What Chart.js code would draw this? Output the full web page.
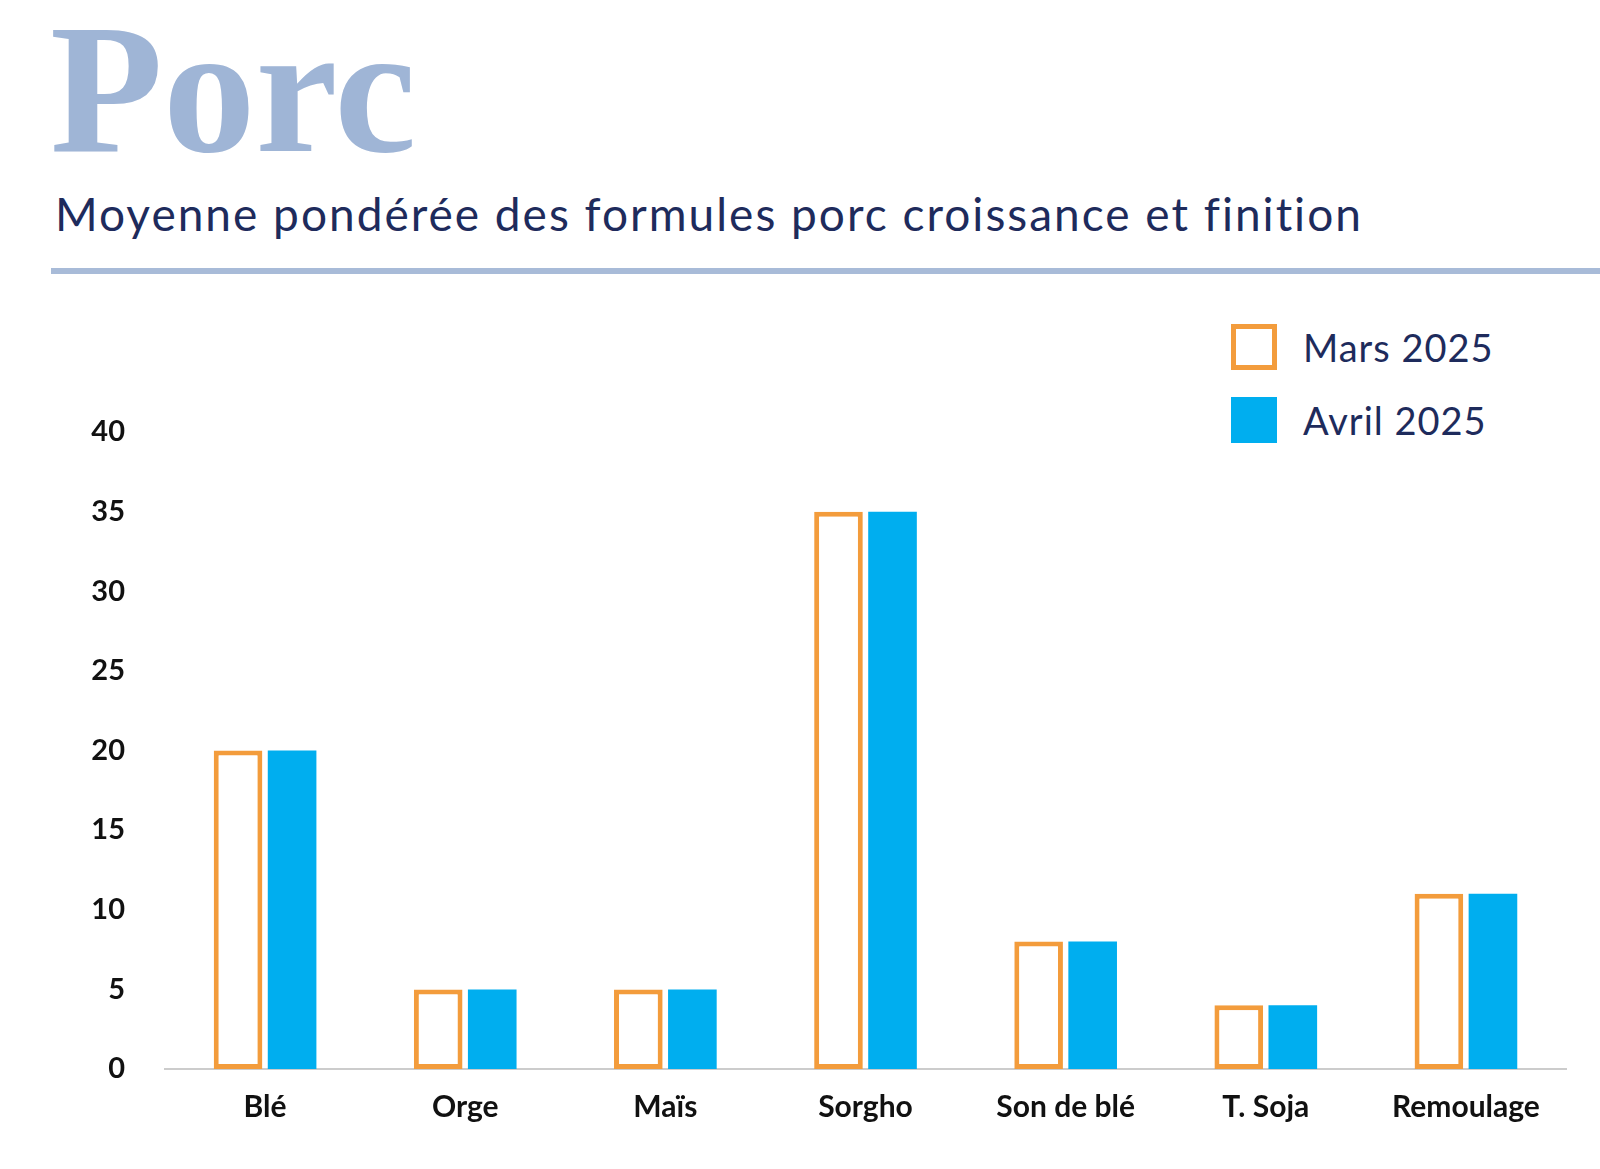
<!DOCTYPE html>
<html>
<head>
<meta charset="utf-8">
<script src="https://cdn.jsdelivr.net/npm/chart.js@4"></script>
<style>
  body { margin:0; width:1600px; height:1169px; background:#fff; position:relative; overflow:hidden; font-family:Lato, "Noto Sans", sans-serif; }
  #titre { position:absolute; left:50px; top:-18px; font-family:"Liberation Serif", "DejaVu Serif", serif; font-weight:bold; font-size:185px; color:#9fb5d6; }
  #sous { position:absolute; left:55px; top:186px; font-size:46px; letter-spacing:2px; color:#1e2b5c; }
  #trait { position:absolute; left:51px; top:268px; width:1560px; height:6px; background:#a8bbd8; }
  #leg { position:absolute; left:1231px; top:324px; font-size:38px; letter-spacing:1px; color:#1e2b5c; }
  .item { display:flex; align-items:center; height:46px; margin-bottom:27px; }
  .box { width:46px; height:46px; box-sizing:border-box; margin-right:26px; }
  #wrap { position:absolute; left:0; top:290px; width:1600px; height:842px; }
</style>
</head>
<body>
<div id="titre">Porc</div>
<div id="sous">Moyenne pondérée des formules porc croissance et finition</div>
<div id="trait"></div>
<div id="leg">
  <div class="item"><span class="box" style="border:5px solid #f39c3c"></span>Mars 2025</div>
  <div class="item"><span class="box" style="background:#00aeef"></span>Avril 2025</div>
</div>
<div id="wrap"><canvas id="c"></canvas></div>
<script>
const categories = ['Blé', 'Orge', 'Maïs', 'Sorgho', 'Son de blé', 'T. Soja', 'Remoulage'];
const mars2025 = [20, 5, 5, 35, 8, 4, 11];
const avril2025 = [20, 5, 5, 35, 8, 4, 11];
const yTicks = [0, 5, 10, 15, 20, 25, 30, 35, 40];

new Chart(document.getElementById('c'), {
  type: 'bar',
  data: {
    labels: categories,
    datasets: [
      { label: 'Mars 2025', data: mars2025, backgroundColor: '#ffffff', borderColor: '#f39c3c', borderWidth: 5, borderSkipped: false },
      { label: 'Avril 2025', data: avril2025, backgroundColor: '#00aeef', borderWidth: 0 }
    ]
  },
  options: {
    responsive: true, maintainAspectRatio: false, animation: false,
    categoryPercentage: 0.54, barPercentage: 0.9,
    layout: { padding: { top: 142, left: 85, right: 34, bottom: 0 } },
    plugins: { legend: { display: false }, tooltip: { enabled: false } },
    scales: {
      x: {
        grid: { display: false },
        border: { color: '#cccccc', width: 2 },
        ticks: { color: '#111', font: { family: 'Lato', weight: 'bold', size: 30 }, padding: 12 },
        afterFit: s => { s.height = 63; }
      },
      y: {
        min: 0, max: 40,
        afterBuildTicks: s => { s.ticks = yTicks.map(v => ({ value: v })); },
        grid: { display: false },
        border: { display: false },
        ticks: { color: '#111', font: { family: 'Lato', weight: 'bold', size: 29 }, padding: 32 },
        afterFit: s => { s.width = 80; }
      }
    }
  }
});
</script>
</body>
</html>
